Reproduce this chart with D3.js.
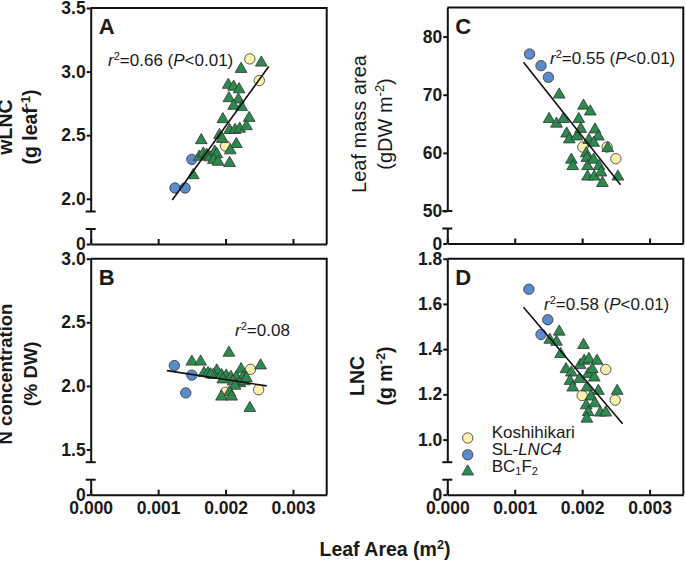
<!DOCTYPE html>
<html>
<head>
<meta charset="utf-8">
<script src="https://cdn.jsdelivr.net/npm/d3@7"></script>
<style>
  body { margin: 0; background: #fff; }
  text { font-family: "Liberation Sans", Arial, sans-serif; fill: #1a1a1a; }
</style>
</head>
<body>
<div id="chart"></div>
<script>
// shared x axis
const xTicks = [0, 0.001, 0.002, 0.003];

// A: wLNC
const yTicksA = [2.0, 2.5, 3.0, 3.5];
const koshiA = [[0.00236, 3.10], [0.00250, 2.93], [0.00200, 2.415]];
const lnc4A = [[0.00150, 2.31], [0.00125, 2.085], [0.00140, 2.085]];
const bcA = [
  [0.00223, 3.02], [0.00253, 3.07], [0.00204, 2.895], [0.00212, 2.88], [0.00220, 2.86],
  [0.00205, 2.79], [0.00219, 2.78], [0.00212, 2.73], [0.00224, 2.72], [0.00196, 2.625],
  [0.00235, 2.635], [0.00206, 2.54], [0.00214, 2.54], [0.00221, 2.55], [0.00231, 2.57],
  [0.00191, 2.50], [0.00195, 2.47], [0.00164, 2.46], [0.00216, 2.43], [0.00207, 2.38],
  [0.00161, 2.33], [0.00167, 2.355], [0.00172, 2.345], [0.00177, 2.325], [0.00184, 2.37],
  [0.00187, 2.35], [0.00182, 2.305], [0.00189, 2.29], [0.00206, 2.28], [0.00152, 2.185]
];
const fitA = [[0.00121, 1.99], [0.00264, 3.04]];

// B: N concentration
const yTicksB = [1.5, 2.0, 2.5, 3.0];
const koshiB = [[0.00237, 2.13], [0.00249, 1.97], [0.00200, 1.95]];
const lnc4B = [[0.00124, 2.16], [0.00150, 2.085], [0.00141, 1.945]];
const bcB = [
  [0.00150, 2.19], [0.00163, 2.19], [0.00205, 2.26], [0.00252, 2.16], [0.00223, 2.13],
  [0.00168, 2.10], [0.00174, 2.10], [0.00187, 2.12], [0.00182, 2.085], [0.00194, 2.085],
  [0.00201, 2.08], [0.00208, 2.07], [0.00216, 2.07], [0.00226, 2.07], [0.00196, 2.05],
  [0.00211, 2.035], [0.00221, 2.02], [0.00228, 2.035], [0.00214, 2.00], [0.00206, 1.95],
  [0.00194, 1.915], [0.00209, 1.915], [0.00236, 1.825], [0.00178, 2.09], [0.00231, 2.06]
];
const fitB = [[0.00113, 2.12], [0.00261, 2.00]];

// C: leaf mass area
const yTicksC = [50, 60, 70, 80];
const koshiC = [[0.00201, 61.0], [0.00237, 61.0], [0.00250, 59.0]];
const lnc4C = [[0.00122, 77.0], [0.00139, 75.0], [0.00150, 73.0]];
const bcC = [
  [0.00166, 70.0], [0.00202, 68.1], [0.00212, 67.1], [0.00151, 65.8], [0.00162, 65.0],
  [0.00172, 65.8], [0.00195, 65.8], [0.00177, 63.3], [0.00181, 62.3], [0.00192, 62.8],
  [0.00198, 64.1], [0.00219, 64.0], [0.00224, 62.8], [0.00210, 62.2], [0.00217, 61.7],
  [0.00238, 60.8], [0.00206, 59.9], [0.00184, 58.8], [0.00186, 57.7], [0.00207, 59.1],
  [0.00208, 57.7], [0.00217, 58.8], [0.00225, 57.7], [0.00208, 55.9], [0.00218, 55.9],
  [0.00228, 56.6], [0.00230, 54.8], [0.00253, 55.9]
];
const fitC = [[0.00113, 75.6], [0.00257, 54.5]];

// D: LNC
const yTicksD = [1.0, 1.2, 1.4, 1.6, 1.8];
const koshiD = [[0.00235, 1.31], [0.00200, 1.195], [0.00249, 1.175]];
const lnc4D = [[0.00121, 1.665], [0.00149, 1.53], [0.00139, 1.465]];
const bcD = [
  [0.00166, 1.477], [0.00152, 1.441], [0.00162, 1.432], [0.00168, 1.378], [0.00202, 1.418],
  [0.00176, 1.311], [0.00184, 1.296], [0.00197, 1.329], [0.00203, 1.348], [0.00210, 1.356],
  [0.00222, 1.348], [0.00209, 1.289], [0.00218, 1.274], [0.00215, 1.311], [0.00182, 1.259],
  [0.00186, 1.230], [0.00196, 1.267], [0.00207, 1.230], [0.00224, 1.215], [0.00213, 1.190],
  [0.00252, 1.215], [0.00206, 1.151], [0.00219, 1.160], [0.00209, 1.121], [0.00227, 1.119],
  [0.00235, 1.119], [0.00207, 1.092]
];
const fitD = [[0.00113, 1.585], [0.00260, 1.07]];

const colKoshi = "#fbf1ae";
const colLnc4 = "#5b8bcc";
const colBc = "#2b8a4e";

const svg = d3.select("#chart").append("svg")
  .attr("width", 685)
  .attr("height", 562);

// write text made of plain / italic / sup / sub pieces
function richText(sel, parts, size) {
  let shift = 0;
  parts.forEach(function (p) {
    const t = sel.append("tspan").text(p[0]);
    let want = 0;
    if (p[1] === "sup") want = -size * 0.38;
    if (p[1] === "sub") want = size * 0.22;
    t.attr("dy", want - shift);
    shift = want;
    if (p[1] === "sup" || p[1] === "sub") t.attr("font-size", size * 0.65);
    if (p[1] === "italic") t.attr("font-style", "italic");
  });
}

function drawPanel(p) {
  const w = 236;
  const top = p.top;
  const mainBottom = top + 203.5;
  const lowTop = top + 221;
  const bottom = top + 236;

  const x = d3.scaleLinear().domain([0, 0.0035]).range([p.left, p.left + w]);
  const y = d3.scaleLinear().domain(p.yDomain).range([mainBottom, top]);
  const y0 = d3.scaleLinear().domain([0, 1]).range([bottom, lowTop]);

  const g = svg.append("g");

  // frame top and right
  g.append("path")
    .attr("d", `M${p.left},${top}H${p.left + w}V${bottom}`)
    .attr("fill", "none")
    .attr("stroke", "#111")
    .attr("stroke-width", 2);

  // x axis, ticks pointing in
  const xa = g.append("g")
    .attr("transform", `translate(0,${bottom})`)
    .call(d3.axisBottom(x).tickValues(xTicks).tickSize(-5).tickSizeOuter(0).tickPadding(7)
      .tickFormat(p.xLabels ? d3.format(".3f") : () => ""));

  // y axis (upper part)
  const ya = g.append("g")
    .attr("transform", `translate(${p.left},0)`)
    .call(d3.axisLeft(y).tickValues(p.yTicks).tickSize(4).tickSizeOuter(0).tickPadding(1)
      .tickFormat(d3.format(p.fmt)));

  // y axis (short part with 0)
  const yb = g.append("g")
    .attr("transform", `translate(${p.left},0)`)
    .call(d3.axisLeft(y0).tickValues([0]).tickSize(4).tickSizeOuter(0).tickPadding(1)
      .tickFormat(d3.format("d")));

  [xa, ya, yb].forEach(function (a) {
    a.select(".domain").attr("stroke", "#111").attr("stroke-width", 2);
    a.selectAll(".tick line").attr("stroke", "#111").attr("stroke-width", 2);
    a.selectAll(".tick text")
      .attr("font-size", 17.5)
      .attr("font-weight", "bold")
      .attr("fill", "#1a1a1a")
      .style("font-family", '"Liberation Sans", Arial, sans-serif');
  });

  // break caps
  [mainBottom, lowTop].forEach(function (cy) {
    g.append("line")
      .attr("x1", p.left - 5).attr("x2", p.left + 5)
      .attr("y1", cy).attr("y2", cy)
      .attr("stroke", "#111").attr("stroke-width", 2);
  });

  // panel letter
  g.append("text")
    .attr("x", p.left + 8)
    .attr("y", top + 26)
    .attr("font-size", 22)
    .attr("font-weight", "bold")
    .text(p.letter);

  // points: circles first, then triangles
  g.selectAll(".kos").data(p.koshi).join("circle")
    .attr("cx", d => x(d[0])).attr("cy", d => y(d[1])).attr("r", 5.2)
    .attr("fill", colKoshi).attr("stroke", "#333").attr("stroke-width", 0.8);
  g.selectAll(".lnc").data(p.lnc4).join("circle")
    .attr("cx", d => x(d[0])).attr("cy", d => y(d[1])).attr("r", 5.2)
    .attr("fill", colLnc4).attr("stroke", "#333").attr("stroke-width", 0.8);
  g.selectAll(".bc").data(p.bc).join("path")
    .attr("d", d3.symbol(d3.symbolTriangle).size(60))
    .attr("transform", d => `translate(${x(d[0])},${y(d[1])})`)
    .attr("fill", colBc).attr("stroke", "#333").attr("stroke-width", 0.8);

  // regression line
  g.append("path")
    .attr("d", d3.line().x(d => x(d[0])).y(d => y(d[1]))(p.fit))
    .attr("fill", "none")
    .attr("stroke", "#111")
    .attr("stroke-width", 1.6);

  // r2 note
  const note = g.append("text")
    .attr("x", p.noteX)
    .attr("y", p.noteY)
    .attr("font-size", 17);
  richText(note, p.note, 17);

  // y title, two lines
  p.title.forEach(function (line, i) {
    const tx = p.titleX[i];
    const t = g.append("text")
      .attr("transform", `translate(${tx},${p.titleY}) rotate(-90)`)
      .attr("text-anchor", "middle")
      .attr("dy", "0.36em")
      .attr("font-size", p.titleSize)
      .attr("font-weight", p.titleBold ? "bold" : "normal");
    richText(t, line, p.titleSize);
  });

  return { x: x, y: y };
}

drawPanel({
  letter: "A", left: 90.7, top: 8, yDomain: [1.9, 3.5], yTicks: yTicksA, fmt: ".1f",
  koshi: koshiA, lnc4: lnc4A, bc: bcA, fit: fitA, xLabels: false,
  note: [["r", "italic"], ["2", "sup"], ["=0.66 (", ""], ["P", "italic"], ["<0.01)", ""]],
  noteX: 108, noteY: 66,
  title: [[["wLNC", ""]], [["(g leaf", ""], ["-1", "sup"], [")", ""]]],
  titleX: [12, 37], titleY: 127, titleBold: true, titleSize: 19.5
});

drawPanel({
  letter: "B", left: 90.7, top: 258.7, yDomain: [1.4, 3.0], yTicks: yTicksB, fmt: ".1f",
  koshi: koshiB, lnc4: lnc4B, bc: bcB, fit: fitB, xLabels: true,
  note: [["r", "italic"], ["2", "sup"], ["=0.08", ""]],
  noteX: 235, noteY: 336,
  title: [[["N concentration", ""]], [["(% DW)", ""]]],
  titleX: [12, 37], titleY: 374, titleBold: true, titleSize: 18.5
});

drawPanel({
  letter: "C", left: 447.3, top: 7.5, yDomain: [50, 85], yTicks: yTicksC, fmt: "d",
  koshi: koshiC, lnc4: lnc4C, bc: bcC, fit: fitC, xLabels: false,
  note: [["r", "italic"], ["2", "sup"], ["=0.55 (", ""], ["P", "italic"], ["<0.01)", ""]],
  noteX: 550, noteY: 64,
  title: [[["Leaf mass area", ""]], [["(gDW m", ""], ["-2", "sup"], [")", ""]]],
  titleX: [366, 392], titleY: 124, titleBold: false, titleSize: 20
});

drawPanel({
  letter: "D", left: 447.3, top: 258.7, yDomain: [0.9, 1.8], yTicks: yTicksD, fmt: ".1f",
  koshi: koshiD, lnc4: lnc4D, bc: bcD, fit: fitD, xLabels: true,
  note: [["r", "italic"], ["2", "sup"], ["=0.58 (", ""], ["P", "italic"], ["<0.01)", ""]],
  noteX: 544, noteY: 310,
  title: [[["LNC", ""]], [["(g m", ""], ["-2", "sup"], [")", ""]]],
  titleX: [364, 392], titleY: 376, titleBold: true, titleSize: 19.5
});

// legend inside D
const legend = svg.append("g").attr("transform", "translate(467.7,438)");
const legendItems = [
  { kind: "circle", fill: colKoshi, label: [["Koshihikari", ""]] },
  { kind: "circle", fill: colLnc4, label: [["SL-", ""], ["LNC4", "italic"]] },
  { kind: "tri", fill: colBc, label: [["BC", ""], ["1", "sub"], ["F", ""], ["2", "sub"]] }
];
legendItems.forEach(function (it, i) {
  const row = legend.append("g").attr("transform", `translate(0,${i * 16.8})`);
  if (it.kind === "circle") {
    row.append("circle").attr("r", 5.2).attr("fill", it.fill)
      .attr("stroke", "#333").attr("stroke-width", 0.8);
  } else {
    row.append("path").attr("d", d3.symbol(d3.symbolTriangle).size(60)())
      .attr("fill", it.fill).attr("stroke", "#333").attr("stroke-width", 0.8);
  }
  const t = row.append("text").attr("x", 24).attr("dy", "0.36em").attr("font-size", 17);
  richText(t, it.label, 17);
});

// shared x title
const xt = svg.append("text")
  .attr("x", 385)
  .attr("y", 556)
  .attr("text-anchor", "middle")
  .attr("font-size", 19.5)
  .attr("font-weight", "bold");
richText(xt, [["Leaf Area (m", ""], ["2", "sup"], [")", ""]], 19.5);
</script>
</body>
</html>
